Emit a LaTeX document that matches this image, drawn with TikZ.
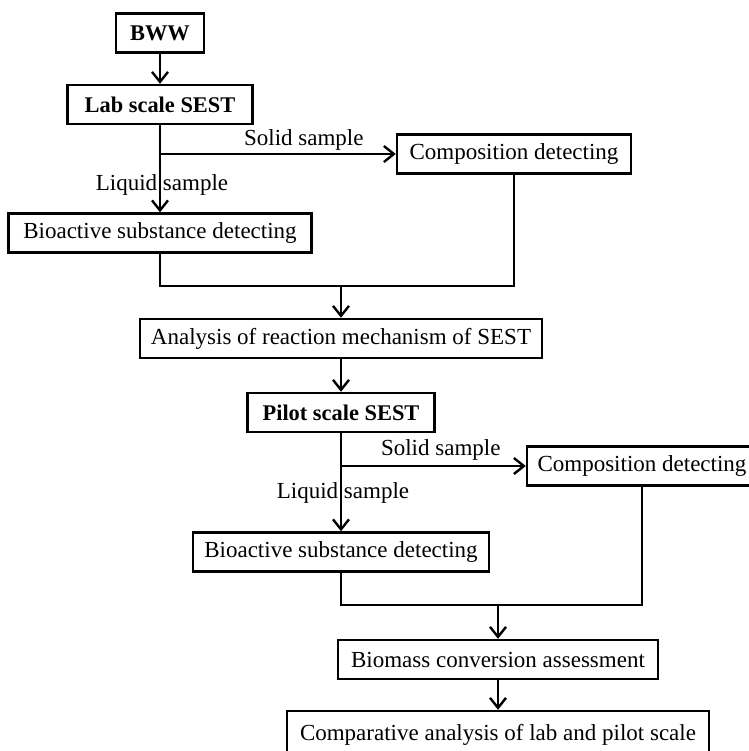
\documentclass[tikz,border=0pt]{standalone}
\usepackage{fontspec}
\setmainfont{Liberation Serif}
\usepackage{tikz}
\usetikzlibrary{arrows.meta}

\begin{document}
\begin{tikzpicture}[
  x=0.5pt, y=-0.5pt,
  >={Straight Barb[length=5pt, width=8pt]},
  line/.style={line width=1.2pt},
  edge/.style={line, ->},
  box/.style={draw, line width=1.2pt, rectangle, minimum height=19.5pt, inner sep=0pt, font=\fontsize{11.5}{14}\selectfont},
  head/.style={box, font=\fontsize{11.2}{14}\selectfont\bfseries},
  slabel/.style={inner sep=1pt, font=\fontsize{11.5}{14}\selectfont}
]
\clip (0,0) rectangle (749,751);

% --- Lab scale ---
\node[head, minimum width=44pt] (bww) at (160,33) {BWW};
\node[head, minimum width=92.5pt] (lab) at (160,104.5) {Lab scale SEST};
\node[box, minimum width=117pt] (comp1) at (514,154) {Composition detecting};
\node[box, minimum width=151.5pt] (bio1) at (160,233) {Bioactive substance detecting};
\coordinate (split1) at (lab |- comp1);
\coordinate (join1) at (341,286);

\node[box, minimum width=201pt] (ana) at (341,338.5) {Analysis of reaction mechanism of SEST};

% --- Pilot scale ---
\node[head, minimum width=93.5pt] (pilot) at (341,412.5) {Pilot scale SEST};
\node[box, minimum width=115pt] (comp2) at (642,466) {Composition detecting};
\node[box, minimum width=148pt] (bio2) at (341,552) {Bioactive substance detecting};
\coordinate (split2) at (pilot |- comp2);
\coordinate (join2) at (498,605);

\node[box, minimum width=160pt] (mass) at (498,659.5) {Biomass conversion assessment};
\node[box, minimum width=211pt, minimum height=24pt] (cmp) at (498,735) {Comparative analysis of lab and pilot scale};

% --- Edges ---
\draw[edge] (bww) -- (lab);
\draw[edge] (lab) -- node[slabel, pos=0.69, xshift=1pt] {Liquid sample} (bio1);
\draw[edge] (split1) -- node[slabel, above, pos=0.61] {Solid sample} (comp1);
\draw[line] (bio1.south) |- (join1) -| (comp1.south);
\draw[edge] (join1) -- (ana);
\draw[edge] (ana) -- (pilot);

\draw[edge] (pilot) -- node[slabel, pos=0.61, xshift=1pt] {Liquid sample} (bio2);
\draw[edge] (split2) -- node[slabel, above, pos=0.54, yshift=1pt] {Solid sample} (comp2);
\draw[line] (bio2.south) |- (join2) -| (comp2.south);
\draw[edge] (join2) -- (mass);
\draw[edge] (mass) -- (cmp);

\end{tikzpicture}
\end{document}
